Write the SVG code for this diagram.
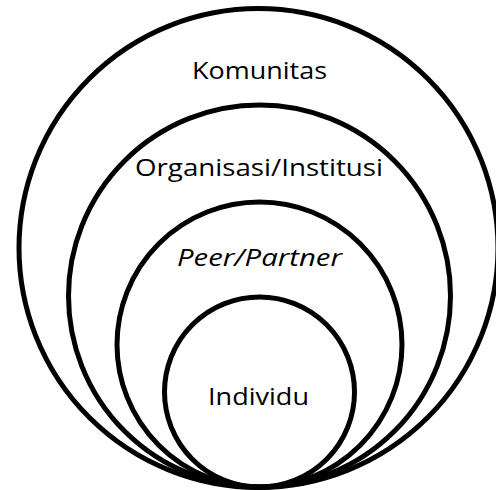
<svg xmlns="http://www.w3.org/2000/svg" width="496" height="490" viewBox="0 0 496 490">
<style>
.ring{fill:none;stroke:#000;stroke-width:5}
.lbl{font-family:"Open Sans","Noto Sans","Liberation Sans",sans-serif;font-size:24px;fill:#000;text-anchor:middle}
</style>
<rect width="496" height="490" fill="#fff"/>
<g id="komunitas">
<circle class="ring" cx="258.5" cy="248" r="239.5"/>
<text class="lbl" x="259.5" y="79" textLength="135" lengthAdjust="spacingAndGlyphs">Komunitas</text>
</g>
<g id="organisasi">
<circle class="ring" cx="259.5" cy="296" r="191"/>
<text class="lbl" x="259" y="176" textLength="248" lengthAdjust="spacingAndGlyphs">Organisasi/Institusi</text>
</g>
<g id="peer">
<circle class="ring" cx="259.5" cy="344.5" r="142.5"/>
<text class="lbl" x="259.5" y="266" font-style="italic" textLength="165" lengthAdjust="spacingAndGlyphs">Peer/Partner</text>
</g>
<g id="individu">
<circle class="ring" cx="259.5" cy="392" r="95"/>
<text class="lbl" x="258.5" y="405" textLength="101" lengthAdjust="spacingAndGlyphs">Individu</text>
</g>
<g id="connectors"></g>
</svg>
